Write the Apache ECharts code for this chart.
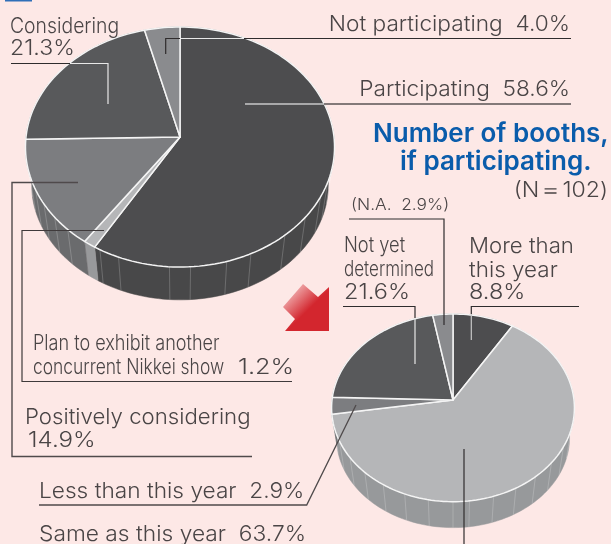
<!DOCTYPE html>
<html><head><meta charset="utf-8">
<style>html,body{margin:0;padding:0;background:#fde8e6}#c{width:611px;height:544px}</style>
<script src="https://cdn.jsdelivr.net/npm/echarts@6/dist/echarts.min.js"></script>
</head><body><div id="c"></div>
<script>
const mainCategories = ['Participating','Plan to exhibit another concurrent Nikkei show','Positively considering','Considering','Not participating'];
const mainValues = [58.6, 1.2, 14.9, 21.3, 4.0];
const boothCategories = ['More than this year','Same as this year','Less than this year','Not yet determined','N.A.'];
const boothValues = [8.8, 63.7, 2.9, 21.6, 2.9];
const boothN = 102;
const titleLines = ['Number of booths,', 'if participating.'];
const topColors = ['#4d4d4f','#b5b6b8','#7c7d80','#58595b','#8a8b8e'];
const mainSide = ['#484849','#98999b','#6a6b6d','#4a4a4b','#6a6b6d'];
const boothSide = ['#484849','#97999b','#6a6b6d','#4a4a4b','#6a6b6d'];
const mainRibs = [.27,.29,.31,.33,.36,.39,.43,.455,.49,.51,.56,.58,.62,.64,.66,.68,.70,.72];
const boothRibs = [.30,.33,.36,.39,.42,.45,.48,.5,.53,.56,.59,.62,.65,.68,.71];

const TAU = Math.PI * 2, K = 0.0835;
const GEO_MAIN = {ax:180, ay:137, a:154, b:119.2, lift:38, shrink:.96};
const GEO_BOOTH = {ax:453, ay:400, a:121, b:93.2, lift:30, shrink:.96};
function pt(g, f, low){
  const t = f * TAU, s = Math.sin(t), c = Math.cos(t), w = 1 + K * c;
  const x = g.a * s / w, y = -g.b * c / w, m = low ? g.shrink : 1;
  return [g.ax + x * m, g.ay + y * m + (low ? g.lift : 0)];
}
function arc(g, a, b, low){
  const n = Math.max(2, Math.ceil((b - a) * 200)), out = [];
  for (let i = 0; i <= n; i++) out.push(pt(g, a + (b - a) * i / n, low));
  return out;
}
function slices(values){
  let c = 0; const total = values.reduce((p, v) => p + v, 0);
  return values.map((v, i) => { const r = [c / total, (c + v) / total, i]; c += v; return r; });
}
function sideSeries(values, g, colors, ribs){
  return {
    type:'custom', coordinateSystem:'none', silent:true, z:1, data:slices(values),
    renderItem(p, api){
      const a = api.value(0), b = api.value(1), i = api.value(2);
      const top = arc(g, a, b, false), low = arc(g, a, b, true).reverse();
      const children = [{type:'polygon', shape:{points:top.concat(low)}, style:{fill:colors[i], stroke:colors[i], lineWidth:.5}}];
      ribs.filter(f => f >= a && f < b).forEach(f => {
        const u = pt(g, f, false), l = pt(g, f, true);
        children.push({type:'line', shape:{x1:u[0], y1:u[1], x2:l[0], y2:l[1]}, style:{stroke:'rgba(255,255,255,.2)', lineWidth:1}});
      });
      return {type:'group', children};
    }
  };
}
function topSeries(values, g, colors){
  return {
    type:'custom', coordinateSystem:'none', silent:true, z:2, data:slices(values),
    renderItem(p, api){
      const a = api.value(0), b = api.value(1), i = api.value(2);
      return {type:'polygon', shape:{points:[[g.ax, g.ay]].concat(arc(g, a, b, false))},
        style:{fill:colors[i], stroke:'#f4f4f4', lineWidth:1.5, lineJoin:'round'}};
    }
  };
}
const INK = '#4a4546', FONT = 'Inter, "Noto Sans", sans-serif';
function txt(text, x, y, size, opt){
  opt = opt || {};
  return {type:'text', x, y:y + 1, scaleX:opt.sx || 1, z:20, silent:true,
    style:{text, x:0, y:0, fill:opt.fill || INK, font:`${opt.w || 300} ${size}px ${opt.f || FONT}`,
      textAlign:opt.align || 'left', textVerticalAlign:'middle'}};
}
function line(points, color, w){
  return {type:'polyline', z:15, silent:true, shape:{points},
    style:{stroke:color || '#3f3a3b', lineWidth:w || 1.2, fill:null, lineJoin:'miter'}};
}
const pc = v => v.toFixed(1) + '%';
const PALE = '#e8e8e8';
const graphics = [
  {type:'rect', z:5, shape:{x:5, y:0, width:27, height:1.5}, style:{fill:'#2f6fb8'}},
  {type:'polygon', z:5, silent:true, shape:{points:[[329,331],[329,287],[318,297],[303,284],[283,307],[295,319],[285,331]]},
    style:{fill:new echarts.graphic.LinearGradient(0,0,1,1,[{offset:0,color:'#fde8e6'},{offset:.55,color:'#d3262e'},{offset:1,color:'#d3262e'}])}},
  // leaders, main pie
  line([[165.7,54],[165.7,38.5],[180,38.5]], '#2f2c2d'), line([[180,38.5],[244,38.5]], PALE), line([[244,38.5],[571,38.5]], '#2f2c2d'),
  line([[245,104],[324,104]], '#c8c8c8', 1.4), line([[324,104],[571,104]], '#5a5455', 1.4),
  line([[108,104],[108,63.5],[70,63.5]], PALE), line([[70,63.5],[11,63.5]], '#2f2c2d'),
  line([[78,182.5],[12,182.5],[12,456.5],[252,456.5]], '#4f4a4b', 1.4),
  line([[104,230.5],[22,230.5],[22,381.5],[292,381.5]], '#3f3a3b', 1.2),
  // leaders, booth pie
  line([[356,405],[306.7,505],[39,505]], '#4f4a4b', 1.3),
  line([[464,449],[464,544]], '#2f2c2d'),
  line([[415,364],[415,318]], PALE), line([[415,318],[415,306.5],[343,306.5]], '#2f2c2d'),
  line([[471.3,340],[471.3,314]], '#c8c8c8'), line([[471.3,314],[471.3,306.5],[579,306.5]], '#2f2c2d'),
  line([[444,325],[444,219],[349,219]], '#2f2c2d'),
  // text, main pie
  txt(mainCategories[3], 10, 25, 22, {sx:.88}),
  txt(pc(mainValues[3]), 10, 48, 21, {sx:1.1}),
  txt(mainCategories[4] + '  ' + pc(mainValues[4]), 570, 23, 22, {align:'right', sx:1.03}),
  txt(mainCategories[0] + '  ' + pc(mainValues[0]), 570, 88, 22, {align:'right', sx:1.03}),
  txt('Plan to exhibit another', 33, 343, 21, {sx:.86}),
  txt('concurrent Nikkei show', 33, 367, 21, {sx:.83}),
  txt(pc(mainValues[1]), 238, 367, 21, {sx:1.2}),
  txt(mainCategories[2], 25, 416, 22, {sx:1.01}),
  txt(pc(mainValues[2]), 28, 440, 21, {sx:1.15}),
  // title
  txt(titleLines[0], 373, 133, 26, {fill:'#0a5cab', w:600, f:'Inter, sans-serif'}),
  txt(titleLines[1], 400, 161, 26, {fill:'#0a5cab', w:600, f:'Inter, sans-serif'}),
  txt('(N\uFF1D' + boothN + ')', 608, 190, 21, {align:'right', sx:1.1}),
  // text, booth pie
  txt('(' + boothCategories[4] + '  ' + pc(boothValues[4]) + ')', 351, 204, 16, {sx:1.08}),
  txt('Not yet', 344, 245, 21, {sx:.87}),
  txt('determined', 344, 269, 21, {sx:.81}),
  txt(pc(boothValues[3]), 344, 292, 21, {sx:1.12}),
  txt('More than', 469, 245, 22, {sx:1.01}),
  txt('this year', 469, 269, 22, {sx:1.02}),
  txt(pc(boothValues[0]), 469, 292, 21, {sx:1.12}),
  txt(boothCategories[2] + '  ' + pc(boothValues[2]), 39, 490, 22, {sx:1.03}),
  txt(boothCategories[1] + '  ' + pc(boothValues[1]), 39, 533, 22, {sx:1.035})
];
const chart = echarts.init(document.getElementById('c'), null, {renderer:'canvas'});
chart.setOption({
  animation:false,
  backgroundColor:'#fde8e6',
  series:[
    sideSeries(mainValues, GEO_MAIN, mainSide, mainRibs),
    topSeries(mainValues, GEO_MAIN, topColors),
    sideSeries(boothValues, GEO_BOOTH, boothSide, boothRibs),
    topSeries(boothValues, GEO_BOOTH, topColors)
  ],
  graphic:{elements:graphics}
});
</script></body></html>
